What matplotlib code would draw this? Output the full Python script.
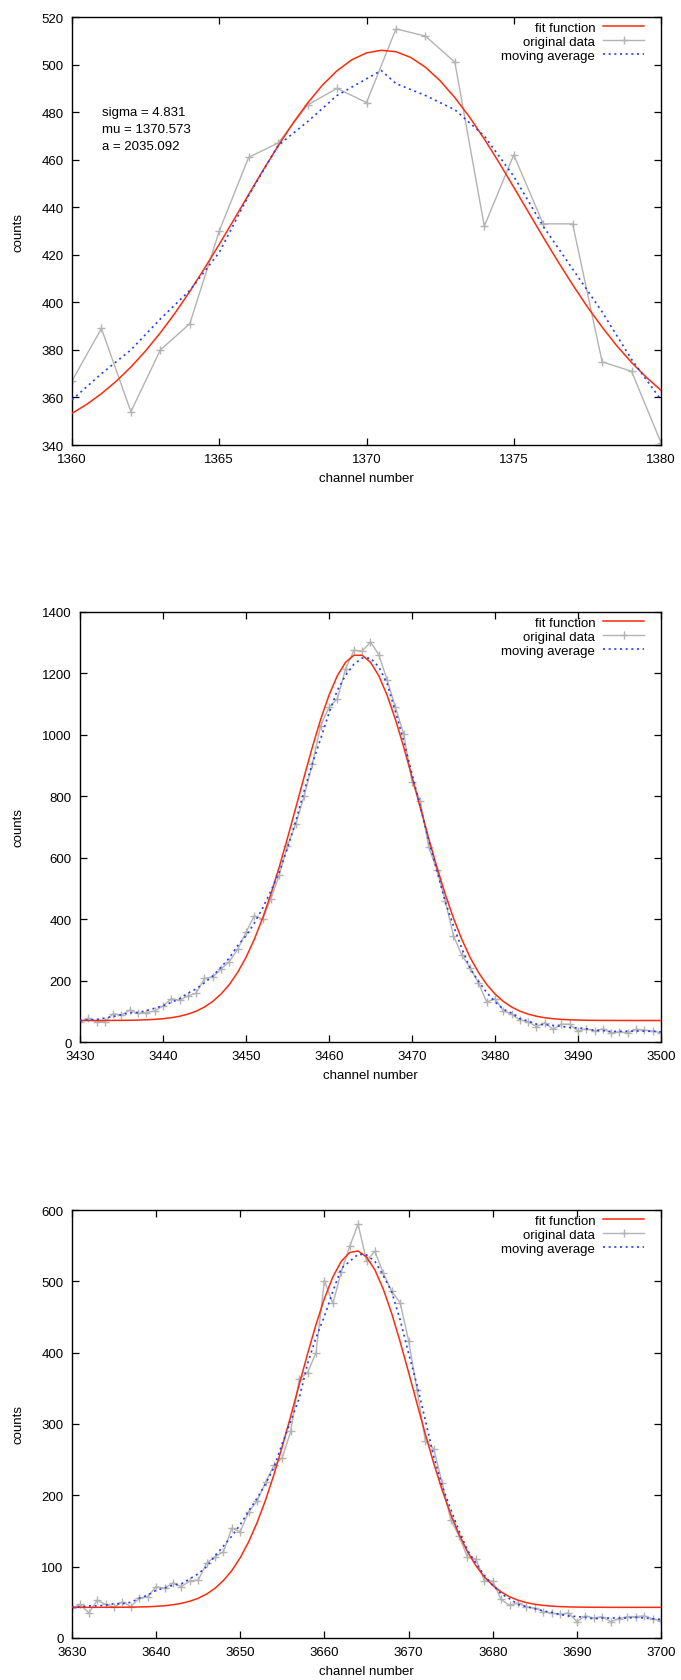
import numpy as np
import matplotlib
matplotlib.use('Agg')
import matplotlib.pyplot as plt

plt.rcParams['font.family'] = ['Liberation Sans', 'DejaVu Sans']
plt.rcParams['font.size'] = 9.5

# ---- panel 1 : channels 1360-1380
ch1 = np.arange(1360, 1381)
orig1 = [367, 389, 354, 380, 391, 430, 461, 467, 483, 490, 484,
         515, 512, 501, 432, 462, 433, 433, 375, 371, 341]
fit1_x = np.arange(1360, 1380.5, 0.5)
fit1 = [353.3, 357.1, 361.6, 366.8, 372.8, 379.6, 387.2, 395.5, 404.6, 414.3,
        424.4, 434.8, 445.4, 455.8, 465.8, 475.3, 483.8, 491.3, 497.4, 502.0,
        504.9, 506.0, 505.4, 503.0, 498.9, 493.2, 486.1, 477.9, 468.7, 458.8,
        448.4, 437.9, 427.4, 417.2, 407.4, 398.1, 389.6, 381.7, 374.7, 368.5,
        363.0]
avg1_x = [1360, 1361, 1362, 1363, 1364, 1365, 1366, 1367, 1368, 1369, 1370,
          1370.5, 1371, 1372, 1373, 1374, 1375, 1376, 1377, 1378, 1379, 1380]
avg1 = [359, 370, 380, 393, 405, 421, 445, 466, 476, 487, 494,
        497.5, 492, 487, 481, 470, 453, 432, 414, 396, 376, 359]
stats1 = ['sigma = 4.831', 'mu = 1370.573', 'a = 2035.092']

# ---- panel 2 : channels 3430-3500
ch2 = np.arange(3430, 3501)
orig2 = [65, 77, 66, 66, 92, 88, 104, 93, 96, 101,
         117, 141, 136, 150, 159, 207, 212, 237, 262, 302,
         357, 411, 400, 467, 543, 639, 710, 800, 905, 1030,
         1090, 1117, 1215, 1275, 1273, 1302, 1261, 1179, 1090, 1003,
         848, 786, 636, 560, 460, 346, 283, 242, 193, 130,
         141, 101, 90, 72, 66, 50, 63, 41, 58, 58,
         36, 43, 36, 43, 30, 33, 30, 41, 39, 36,
         30]
fit2 = [70.0, 70.0, 70.1, 70.2, 70.3, 70.5, 70.8, 71.4, 72.3, 73.6,
        75.8, 79.0, 83.8, 90.7, 100.4, 113.9, 132.2, 156.3, 187.4, 226.9,
        275.5, 334.1, 402.9, 481.6, 569.2, 663.8, 762.9, 863.0, 960.4, 1050.5,
        1129.2, 1192.3, 1236.4, 1259.1, 1259.1, 1236.4, 1192.3, 1129.2, 1050.5, 960.4,
        863.0, 762.9, 663.8, 569.2, 481.6, 402.9, 334.1, 275.5, 226.9, 187.4,
        156.3, 132.2, 113.9, 100.4, 90.7, 83.8, 79.0, 75.8, 73.6, 72.3,
        71.4, 70.8, 70.5, 70.3, 70.2, 70.1, 70.1, 70.0, 70.0, 70.0,
        70.0]
avg2 = [70, 72, 73, 78, 83, 89, 95, 96, 102, 110,
        118, 129, 141, 159, 173, 193, 215, 244, 274, 314,
        346, 387, 436, 492, 552, 632, 719, 817, 907, 988,
        1071, 1145, 1194, 1230, 1250, 1250, 1221, 1167, 1076, 981,
        873, 767, 658, 558, 457, 378, 305, 239, 198, 161,
        131, 107, 94, 76, 68, 58, 56, 54, 51, 47,
        46, 43, 38, 37, 34, 35, 35, 36, 35, 35,
        33]

# ---- panel 3 : channels 3630-3700
ch3 = np.arange(3630, 3701)
orig3 = [42, 47, 35, 53, 47, 43, 51, 44, 56, 58,
         72, 70, 77, 72, 80, 81, 105, 114, 121, 154,
         149, 177, 192, 218, 242, 253, 290, 363, 372, 400,
         501, 469, 513, 549, 580, 529, 542, 511, 486, 470,
         417, 348, 276, 265, 217, 166, 143, 113, 111, 80,
         80, 54, 46, 49, 44, 42, 37, 35, 33, 35,
         23, 31, 28, 30, 23, 27, 30, 30, 31, 27,
         24]
fit3 = [43.0, 43.0, 43.0, 43.0, 43.1, 43.1, 43.2, 43.3, 43.5, 43.8,
        44.4, 45.2, 46.6, 48.6, 51.5, 55.7, 61.6, 69.7, 80.6, 94.7,
        112.6, 135.0, 161.8, 193.2, 229.1, 268.8, 311.3, 355.1, 398.5, 439.5,
        476.0, 506.2, 528.1, 540.4, 542.5, 534.2, 516.0, 489.0, 454.8, 415.3,
        372.6, 328.7, 285.5, 244.6, 207.1, 173.8, 145.1, 121.0, 101.4, 85.8,
        73.7, 64.6, 57.8, 53.0, 49.6, 47.3, 45.7, 44.7, 44.0, 43.6,
        43.4, 43.2, 43.1, 43.1, 43.0, 43.0, 43.0, 43.0, 43.0, 43.0,
        43.0]
avg3 = [43, 44, 45, 45, 46, 48, 48, 50, 56, 60,
        67, 70, 74, 76, 83, 90, 100, 115, 129, 143,
        159, 178, 196, 216, 239, 273, 304, 336, 385, 421,
        451, 486, 518, 528, 538, 537, 528, 508, 485, 446,
        399, 355, 305, 254, 213, 181, 150, 123, 105, 88,
        74, 62, 55, 47, 44, 41, 38, 36, 33, 31,
        30, 29, 27, 28, 28, 28, 28, 29, 28, 27,
        26]

RED = '#ff2a0a'
GRAY = '#b3b3b3'
BLUE = '#1f3cff'

fig = plt.figure(figsize=(6.81, 16.81), dpi=100)

panels = [
    # rect, x, orig, fit x, fit y, avg x, avg y, xlim, ylim, xticks, yticks
    ([72/681, 1-446/1681, 589/681, 428/1681], ch1, orig1, fit1_x, fit1, avg1_x, avg1,
     (1360, 1380), (340, 520), np.arange(1360, 1381, 5), np.arange(340, 521, 20)),
    ([80/681, 1-1043/1681, 581/681, 430/1681], ch2, orig2, ch2, fit2, ch2, avg2,
     (3430, 3500), (0, 1400), np.arange(3430, 3501, 10), np.arange(0, 1401, 200)),
    ([72/681, 1-1639/1681, 589/681, 428/1681], ch3, orig3, ch3, fit3, ch3, avg3,
     (3630, 3700), (0, 600), np.arange(3630, 3701, 10), np.arange(0, 601, 100)),
]

axes = []
for rect, x, y, fx, fy, mx, my, xl, yl, xt, yt in panels:
    ax = fig.add_axes(rect)
    ax.plot(fx, fy, color=RED, lw=1.1, label='fit function', zorder=3)
    ax.plot(x, y, color=GRAY, lw=1.0, marker='+', ms=6, mew=1.0,
            label='original data', zorder=2)
    ax.plot(mx, my, color=BLUE, lw=1.2, ls=(0, (1.2, 2.2)),
            label='moving average', zorder=4)
    ax.set_xlim(*xl)
    ax.set_ylim(*yl)
    ax.set_xticks(xt)
    ax.set_yticks(yt)
    ax.tick_params(direction='in', top=True, right=True, length=5, width=0.9,
                   pad=6, labelsize=9.5)
    for s in ax.spines.values():
        s.set_linewidth(1.0)
    ax.set_xlabel('channel number', fontsize=9.5)
    ax.set_ylabel('counts', fontsize=9.5)
    w = rect[2] * 681
    ax.yaxis.set_label_coords(-(rect[0] * 681 - 24) / w, 0.5)
    ax.xaxis.set_label_coords(0.5, -27 / 428)
    ax.xaxis.label.set_va('top')
    leg = ax.legend(loc='upper right', bbox_to_anchor=((644 - rect[0] * 681) / w, 0.99),
                    frameon=False, markerfirst=False, numpoints=1, borderpad=0,
                    borderaxespad=0, handlelength=3.1, handletextpad=0.6,
                    labelspacing=0.15, fontsize=9.5)
    axes.append(ax)

for i, s in enumerate(stats1):
    axes[0].text(0.051, 0.778 - 0.04 * i, s, transform=axes[0].transAxes,
                 ha='left', va='center', fontsize=9.5)

fig.savefig('out.png', dpi=100)
